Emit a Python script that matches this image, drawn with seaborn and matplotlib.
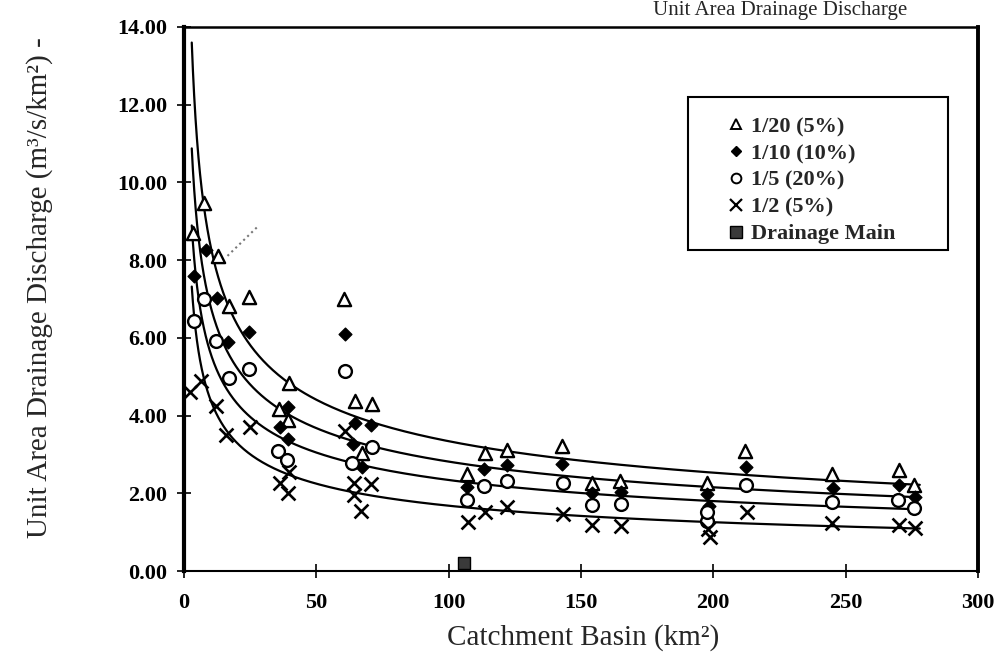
import numpy as np
import pandas as pd
import matplotlib
matplotlib.use("Agg")
import matplotlib.pyplot as plt
import seaborn as sns
from matplotlib.patches import Rectangle
from matplotlib.lines import Line2D

# ---------------- data ----------------
series_names = ["1/20 (5%)", "1/10 (10%)", "1/5 (20%)", "1/2 (5%)"]

x_t20 = [3.6, 7.8, 12.9, 17.0, 24.5, 35.8, 39.7, 39.5, 60.4, 64.8, 71.0, 67.2,
         106.9, 113.9, 122.0, 142.8, 154.0, 164.9, 197.6, 212.1, 245.0, 270.2, 275.7]
y_t20 = [8.69, 9.47, 8.10, 6.82, 7.04, 4.17, 4.83, 3.88, 7.00, 4.38, 4.31, 3.05,
         2.50, 3.03, 3.13, 3.22, 2.28, 2.33, 2.28, 3.08, 2.50, 2.60, 2.22]

x_t10 = [3.9, 8.4, 12.6, 16.7, 24.5, 39.2, 36.2, 39.4, 60.7, 64.5, 70.8, 64.0, 67.4,
         107.0, 113.4, 121.9, 142.9, 154.1, 165.0, 197.7, 198.3, 212.2, 245.1, 270.3, 276.1]
y_t10 = [7.59, 8.27, 7.03, 5.89, 6.14, 4.22, 3.70, 3.40, 6.10, 3.80, 3.75, 3.26, 2.67,
         2.16, 2.63, 2.74, 2.77, 2.01, 2.03, 1.98, 1.68, 2.69, 2.14, 2.21, 1.92]

x_t5 = [3.7, 7.5, 12.2, 17.0, 24.7, 35.7, 39.0, 60.7, 71.0, 63.5,
        107.1, 113.5, 121.9, 143.1, 154.2, 165.1, 197.5, 197.8, 212.4, 244.7, 269.8, 275.9]
y_t5 = [6.44, 6.99, 5.93, 4.96, 5.19, 3.10, 2.87, 5.14, 3.19, 2.79,
        1.82, 2.20, 2.33, 2.27, 1.71, 1.72, 1.30, 1.51, 2.22, 1.79, 1.82, 1.62]

x_t2 = [2.3, 6.5, 12.1, 16.1, 25.1, 39.7, 36.4, 39.2, 60.8, 64.3, 70.6, 64.4, 67.1,
        107.2, 113.7, 121.9, 143.3, 154.3, 165.2, 198.0, 198.9, 212.6, 244.8, 270.0, 276.3]
y_t2 = [4.60, 4.90, 4.25, 3.50, 3.71, 2.54, 2.28, 2.01, 3.60, 2.28, 2.24, 1.97, 1.55,
        1.26, 1.52, 1.64, 1.48, 1.19, 1.16, 1.08, 0.87, 1.53, 1.23, 1.18, 1.10]

x_main = [106.0]
y_main = [0.20]

# power trendlines  y = a * x^(-b)  (coefficients)
trend_a = [21.1, 16.6, 13.5, 11.6]
trend_b = [0.400, 0.385, 0.380, 0.419]
trend_range = [3.0, 278.0]

# short leader stroke near the top-left
leader_x = [16.5, 27.7]
leader_y = [8.11, 8.85]

x_ticks = [0, 50, 100, 150, 200, 250, 300]
y_ticks = [0, 2, 4, 6, 8, 10, 12, 14]

# ---------------- figure ----------------
sns.set_theme(style="white")
plt.rcParams["font.family"] = ["Liberation Serif", "DejaVu Serif"]

fig = plt.figure(figsize=(9.99, 6.72), dpi=100)
ax = fig.add_axes([0.184, 0.150, 0.795, 0.810])

# trendlines
for a, b in zip(trend_a, trend_b):
    xs = np.geomspace(trend_range[0], trend_range[1], 400)
    df_line = pd.DataFrame({"x": xs, "y": a * xs ** (-b)})
    sns.lineplot(data=df_line, x="x", y="y", ax=ax, color="black", lw=1.6,
                 sort=False, zorder=2, legend=False)

ax.plot(leader_x, leader_y, color="#777777", lw=1.5, ls=":", zorder=2)

styles = [
    dict(marker="^", s=90, facecolor="white", edgecolor="black", linewidth=1.7),
    dict(marker="D", s=42, facecolor="black", edgecolor="black", linewidth=1.0),
    dict(marker="o", s=85, facecolor="white", edgecolor="black", linewidth=1.7),
    dict(marker="x", s=100, color="black", linewidth=1.9),
]
data_x = [x_t20, x_t10, x_t5, x_t2]
data_y = [y_t20, y_t10, y_t5, y_t2]
for xs, ys, st in zip(data_x, data_y, styles):
    df = pd.DataFrame({"x": xs, "y": ys})
    sns.scatterplot(data=df, x="x", y="y", ax=ax, zorder=3, legend=False, **st)

df_m = pd.DataFrame({"x": x_main, "y": y_main})
sns.scatterplot(data=df_m, x="x", y="y", ax=ax, marker="s", s=80,
                facecolor="#3a3a3a", edgecolor="black", linewidth=1.0,
                zorder=4, legend=False, clip_on=False)

ax.set_xlim(0, 300)
ax.set_ylim(0, 14)
ax.set_xticks(x_ticks)
ax.set_xticklabels([str(v) for v in x_ticks])
ax.set_yticks(y_ticks)
ax.set_yticklabels([f"{v:.2f}" for v in y_ticks])
ax.set_xlabel("")
ax.set_ylabel("")
ax.tick_params(axis="both", direction="inout", length=10, width=1.2,
               colors="black", labelsize=16)
ax.tick_params(axis="y", pad=7, left=True)
ax.tick_params(axis="x", pad=11, bottom=True)
for lab in ax.get_xticklabels() + ax.get_yticklabels():
    lab.set_fontweight("bold")

for side, lw in [("left", 3.0), ("right", 2.8), ("top", 1.8), ("bottom", 1.5)]:
    ax.spines[side].set_visible(True)
    ax.spines[side].set_color("black")
    ax.spines[side].set_linewidth(lw)

# legend box drawn as a frame, entries as a frameless legend
ax.add_patch(Rectangle((0.635, 0.590), 0.327, 0.281, transform=ax.transAxes,
                       facecolor="white", edgecolor="black", lw=1.5, zorder=5))
handles = [
    Line2D([], [], ls="none", marker="^", ms=7, mfc="white", mec="black", mew=1.4),
    Line2D([], [], ls="none", marker="D", ms=5.5, mfc="black", mec="black"),
    Line2D([], [], ls="none", marker="o", ms=7, mfc="white", mec="black", mew=1.4),
    Line2D([], [], ls="none", marker="x", ms=8, mec="black", mew=1.6),
    Line2D([], [], ls="none", marker="s", ms=8, mfc="#3a3a3a", mec="black"),
]
labels = series_names + ["Drainage Main"]
leg = ax.legend(handles, labels, loc="upper left", bbox_to_anchor=(0.685, 0.835),
                frameon=False, fontsize=16, handlelength=0.7, handletextpad=0.35,
                labelspacing=0.28, borderpad=0, borderaxespad=0)
leg.set_zorder(6)
for t in leg.get_texts():
    t.set_fontweight("bold")

# axis titles
fig.text(0.584, 0.052, "Catchment Basin (km²)", ha="center", va="center",
         fontsize=21)
fig.text(0.040, 0.572, "Unit Area Drainage Discharge (m³/s/km²) -", ha="center",
         va="center", rotation=90, fontsize=21)
# chart title at the very top (partly cut off in the scan; kept fully visible here)
fig.text(0.908, 0.998, "Unit Area Drainage Discharge", ha="right",
         va="top", fontsize=15)

fig.savefig("out.png", dpi=100, facecolor="white")
